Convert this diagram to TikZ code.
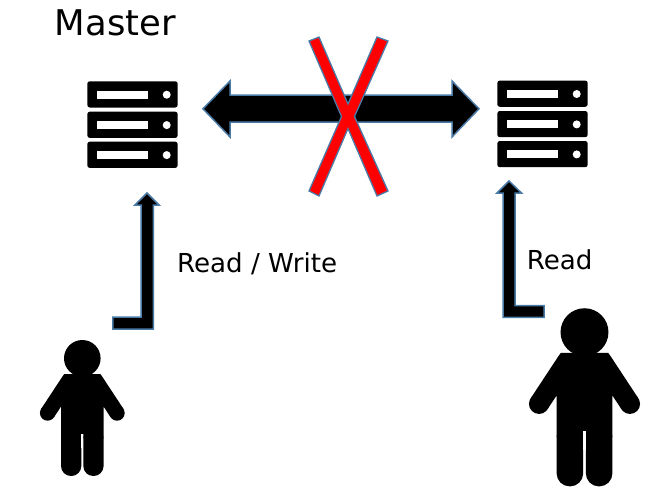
\documentclass[tikz,border=0pt]{standalone}
\usepackage{fontspec}
\setmainfont{DejaVu Sans}
\definecolor{edgeblue}{HTML}{4A7AA6}
\tikzset{
  blockarrow/.style={fill=black,draw=edgeblue,line width=1.5pt,line join=miter},
  cross/.style={fill=red,draw=edgeblue,line width=1.3pt,line join=miter},
  label/.style={inner sep=0pt,anchor=base west,font=\fontsize{26.1}{30}\selectfont},
  title/.style={inner sep=0pt,anchor=base west,font=\fontsize{35.4}{40}\selectfont},
  rack/.style={fill=black,rounded corners=2.5pt},
  slot/.style={fill=white}
}
\newcommand{\serverunit}[1]{%
  \begin{scope}[shift={(0,#1)}]
    \path[rack] (0,0) rectangle (90.4,26.2);
    \path[slot] (9.4,9.4) rectangle (61,17.4);
    \path[slot] (79.4,13.4) circle[radius=4];
  \end{scope}}
\newcommand{\serverstack}[2]{%
  \begin{scope}[shift={(#1,#2)}]
    \serverunit{0}\serverunit{30.4}\serverunit{60.4}
  \end{scope}}
\newcommand{\person}[3]{%
  \begin{scope}[shift={(#1,#2)},scale=#3]
    \fill (0,0) circle[radius=18.3];
    \fill (34.7,54.7) circle[radius=7.7];
    \fill (-34.7,54.7) circle[radius=7.7];
    \fill (-18,15.7) -- (18,15.7) -- (19.9,18.3) -- (41.1,50.5) -- (28.3,58.9)
      -- (21.3,48.3) -- (21.3,80) -- (1,80) -- (1,75.7) -- (-1,75.7) -- (-1,80)
      -- (-21.3,80) -- (-21.3,48.3) -- (-28.3,58.9) -- (-41.1,50.5) -- (-19.9,18.3) -- cycle;
    \fill[rounded corners=#3*10pt] (-21.3,70) rectangle (-1,117.7);
    \fill[rounded corners=#3*10pt] (1,70) rectangle (21.3,117.7);
    \fill[white] (-1,75.7) rectangle (1,90);
  \end{scope}}
\begin{document}
\begin{tikzpicture}[x=1pt,y=-1pt]
  \useasboundingbox (0,0) rectangle (653,495);
  \node[title] (master) at (54.6,36) {Master};
  \serverstack{87.3}{81.3}
  \serverstack{497.3}{80.6}
  % double arrow
  \path[blockarrow] (203,108.8) -- (230,81) -- (230,95) -- (452,95) -- (452,81)
    -- (479,108.8) -- (452,137) -- (452,122) -- (230,122) -- (230,137) -- cycle;
  % cross
  \path[cross] (309,41) -- (319,37) -- (348,104) -- (377,37) -- (388,41)
    -- (354.5,116.5) -- (388,191) -- (377,196) -- (348,128.5) -- (319,196)
    -- (309,191) -- (341.5,116.5) -- cycle;
  % bent arrows
  \path[blockarrow] (147,193) -- (159,205) -- (153.3,205) -- (153.3,329)
    -- (112.8,329) -- (112.8,317) -- (141,317) -- (141,205) -- (135,205) -- cycle;
  \path[blockarrow] (509,181) -- (521.5,193) -- (515,193) -- (515,305.5)
    -- (544,305.5) -- (544,317.3) -- (503,317.3) -- (503,193) -- (497,193) -- cycle;
  \node[label] (rw) at (177,272) {Read / Write};
  \node[label] (rd) at (526.7,269) {Read};
  \person{82.3}{358.3}{1}
  \person{584.5}{332.2}{1.31}
\end{tikzpicture}
\end{document}
